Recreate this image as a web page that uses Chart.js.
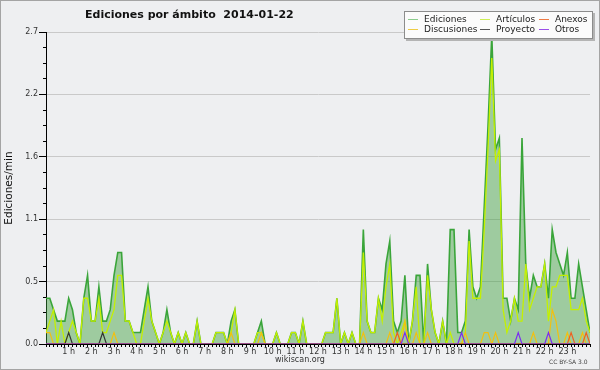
<!DOCTYPE html>
<html>
<head>
<meta charset="utf-8">
<script src="https://cdn.jsdelivr.net/npm/chart.js@4/dist/chart.umd.min.js"></script>
<style>
html, body { margin:0; padding:0; background:#eeeff1; }
#wrap { position:relative; width:600px; height:370px; background:#eeeff1; box-shadow:inset 0 0 0 1px #a4a4a4; font-family:"DejaVu Sans", sans-serif; color:#222; overflow:hidden; }
#wrap canvas { position:absolute; left:0; top:0; }
.txt { position:absolute; white-space:nowrap; }
#title { left:85px; top:9px; font-weight:bold; font-size:11px; line-height:11px; color:#111; }
#legend { position:absolute; left:404px; top:11px; width:187px; height:26px; background:#fbfbfb; border:1px solid #8c8c8c; box-shadow:2px 2px 0 #b4b4b4; }
.lg { position:absolute; font-size:9px; line-height:9px; color:#222; }
.lg i { position:absolute; left:-16px; top:4px; width:10px; height:1px; }
#site { left:0; width:600px; text-align:center; top:356px; font-size:8px; line-height:8px; color:#333; }
#cc { left:549px; top:359px; font-size:6px; line-height:6px; color:#444; }
</style>
</head>
<body>
<div id="wrap">
  <canvas id="c" width="600" height="370"></canvas>
  <div id="title" class="txt">Ediciones por ámbito&nbsp;&nbsp;2014-01-22</div>
  <div id="legend">
    <span class="lg" style="left:19px;top:3px"><i style="background:#8ccc8c"></i>Ediciones</span>
    <span class="lg" style="left:91px;top:3px"><i style="background:#cdee55"></i>Artículos</span>
    <span class="lg" style="left:150px;top:3px"><i style="background:#ee7a44"></i>Anexos</span>
    <span class="lg" style="left:19px;top:13px"><i style="background:#eecc44"></i>Discusiones</span>
    <span class="lg" style="left:91px;top:13px"><i style="background:#555555"></i>Proyecto</span>
    <span class="lg" style="left:150px;top:13px"><i style="background:#9a4ee8"></i>Otros</span>
  </div>
  <div id="site" class="txt">wikiscan.org</div>
  <div id="cc" class="txt">CC BY-SA 3.0</div>
</div>
<script>
// one value per 10 minutes, 00:00 .. 24:00 (145 slots), edits per minute
const hourLabels = ['1 h','2 h','3 h','4 h','5 h','6 h','7 h','8 h','9 h','10 h','11 h','12 h',
  '13 h','14 h','15 h','16 h','17 h','18 h','19 h','20 h','21 h','22 h','23 h'];
const slotsPerHour = 6;
const yMax = 30 / 11;

const ediciones = [
  0.4,0.4,0.3,0.2,0.2,0.2,
  0.4,0.3,0.1,0,0.4,0.6,
  0.2,0.2,0.5,0.2,0.2,0.3,
  0.6,0.8,0.8,0.2,0.2,0.1,
  0.1,0.1,0.3,0.5,0.2,0.1,
  0,0.1,0.3,0.1,0,0.1,
  0,0.1,0,0,0.2,0,
  0,0,0,0.1,0.1,0.1,
  0,0.2,0.3,0,0,0,
  0,0,0.1,0.2,0,0,
  0,0.1,0,0,0,0.1,
  0.1,0,0.2,0,0,0,
  0,0,0.1,0.1,0.1,0.4,
  0,0.1,0,0.1,0,0,
  1.0,0.2,0.1,0.1,0.4,0.3,
  0.7,0.9,0.2,0.1,0.2,0.6,
  0,0.2,0.6,0.6,0,0.7,
  0.3,0.1,0,0.2,0,1.0,
  1.0,0.1,0.1,0.2,1.0,0.5,
  0.4,0.5,1.2,1.9,2.7,1.7,
  1.8,0.4,0.4,0.2,0.4,0.3,
  1.8,0.7,0.4,0.6,0.5,0.5,
  0.7,0.4,1.0,0.8,0.7,0.6,
  0.8,0.4,0.4,0.7,0.5,0.3,
  0.1
];
const articulos = [
  0.1,0.2,0.3,0,0.2,0,
  0.1,0.2,0.1,0,0.4,0.4,
  0.2,0.2,0.4,0.1,0.1,0.2,
  0.3,0.6,0.6,0.2,0.2,0.1,
  0,0,0.2,0.4,0.2,0.1,
  0,0.1,0.2,0.1,0,0.1,
  0,0.1,0,0,0.2,0,
  0,0,0,0.1,0.1,0.1,
  0,0.1,0.3,0,0,0,
  0,0,0.1,0.1,0,0,
  0,0.1,0,0,0,0.1,
  0.1,0,0.2,0,0,0,
  0,0,0.1,0.1,0.1,0.4,
  0,0.1,0,0.1,0,0,
  0.8,0.2,0.1,0.1,0.4,0.2,
  0.5,0.7,0.1,0,0.1,0.2,
  0,0.2,0.5,0,0,0.6,
  0.3,0.1,0,0.2,0,0.1,
  0,0,0,0.1,0.9,0.4,
  0.4,0.4,1.0,1.7,2.5,1.6,
  1.7,0.3,0.1,0.2,0.4,0.2,
  0.2,0.7,0.3,0.4,0.5,0.5,
  0.7,0.2,0.5,0.5,0.6,0.6,
  0.6,0.3,0.3,0.3,0.4,0.2,
  0.1
];
const discusiones = [
  0.1,0.1,0,0,0,0,
  0,0,0,0,0,0,
  0,0,0,0,0,0,
  0.1,0,0,0,0,0,
  0,0,0,0,0,0,
  0,0,0,0,0,0,
  0,0,0,0,0,0,
  0,0,0,0,0,0,
  0,0.1,0,0,0,0,
  0,0,0,0.1,0,0,
  0,0,0,0,0,0,
  0,0,0,0,0,0,
  0,0,0,0,0,0,
  0,0,0,0,0,0,
  0.1,0,0,0,0,0,
  0,0.1,0,0,0,0.2,
  0,0,0.1,0,0,0.1,
  0,0,0,0,0,0,
  0,0,0,0.1,0,0,
  0,0,0.1,0.1,0,0.1,
  0,0,0,0,0,0,
  0,0,0,0.1,0,0,
  0,0,0.3,0.2,0,0,
  0.1,0,0,0,0.1,0,
  0
];
const proyecto = [
  0,0,0,0,0,0,
  0.1,0,0,0,0,0,
  0,0,0,0.1,0,0,
  0,0,0,0,0,0,
  0,0,0,0,0,0,
  0,0,0,0,0,0,
  0,0,0,0,0,0,
  0,0,0,0,0,0,
  0,0,0,0,0,0,
  0,0,0,0,0,0,
  0,0,0,0,0,0,
  0,0,0,0,0,0,
  0,0,0,0,0,0,
  0,0,0,0,0,0,
  0,0,0,0,0,0,
  0,0,0,0,0,0,
  0,0,0,0,0,0,
  0,0,0,0,0,0,
  0,0,0,0,0,0,
  0,0,0,0,0,0,
  0,0,0,0,0,0,
  0,0,0,0,0,0,
  0,0,0,0,0,0,
  0,0,0,0,0,0,
  0
];
const anexos = [
  0,0,0,0,0,0,
  0,0,0,0,0,0,
  0,0,0,0,0,0,
  0,0,0,0,0,0,
  0,0,0,0,0,0,
  0,0,0,0,0,0,
  0,0,0,0,0,0,
  0,0,0,0,0,0,
  0,0,0,0,0,0,
  0,0,0,0,0,0,
  0,0,0,0,0,0,
  0,0,0,0,0,0,
  0,0,0,0,0,0,
  0,0,0,0,0,0,
  0,0,0,0,0,0,
  0,0,0,0.1,0,0,
  0,0,0,0,0,0,
  0,0,0,0,0,0,
  0,0,0,0,0,0,
  0,0,0,0,0,0,
  0,0,0,0,0,0,
  0,0,0,0,0,0,
  0,0,0,0,0,0,
  0,0.1,0,0,0,0.1,
  0
];
const otros = [
  0,0,0,0,0,0,
  0,0,0,0,0,0,
  0,0,0,0,0,0,
  0,0,0,0,0,0,
  0,0,0,0,0,0,
  0,0,0,0,0,0,
  0,0,0,0,0,0,
  0,0,0,0,0,0,
  0,0,0,0,0,0,
  0,0,0,0,0,0,
  0,0,0,0,0,0,
  0,0,0,0,0,0,
  0,0,0,0,0,0,
  0,0,0,0,0,0,
  0,0,0,0,0,0,
  0,0,0,0,0,0.1,
  0,0,0,0,0,0,
  0,0,0,0,0,0,
  0,0,0.1,0,0,0,
  0,0,0,0,0,0,
  0,0,0,0,0,0.1,
  0,0,0,0,0,0,
  0,0.1,0,0,0,0,
  0,0,0,0,0,0,
  0
];

const slots = ediciones.map((_, i) => i);
const tickFont = { family: 'DejaVu Sans', size: 8 };

function series(label, data, color, width, order, extra) {
  return Object.assign({ label, data, borderColor: color, borderWidth: width, order,
    pointRadius: 0, tension: 0, fill: false, clip: 0 }, extra || {});
}

try {
  new Chart(document.getElementById('c'), {
    type: 'line',
    data: {
      labels: slots,
      datasets: [
        series('Ediciones', ediciones, '#3aa53a', 1.6, 10, { fill: 'origin', backgroundColor: 'rgba(60,160,60,0.45)' }),
        series('Artículos', articulos, '#c4f000', 1.3, 5),
        series('Discusiones', discusiones, '#f2c010', 1.2, 4),
        series('Proyecto', proyecto, '#333333', 1.2, 3),
        series('Anexos', anexos, '#f06020', 1.2, 2),
        series('Otros', otros, '#7a2ef0', 1.2, 1)
      ]
    },
    options: {
      responsive: false,
      animation: false,
      layout: { padding: { left: 0, right: 10, top: 32, bottom: 0 } },
      plugins: { legend: { display: false }, tooltip: { enabled: false }, title: { display: false } },
      scales: {
        x: {
          type: 'category', offset: false, z: 1,
          grid: { drawOnChartArea: false, tickLength: 3, tickColor: '#000' },
          border: { color: '#000' },
          ticks: {
            autoSkip: false, maxRotation: 0, minRotation: 0, padding: 0, color: '#333', font: tickFont,
            callback: (v, i) => (i % slotsPerHour === 0 && i > 0 && i < slots.length - 1) ? hourLabels[i / slotsPerHour - 1] : ''
          },
          afterFit: s => { s.height = 26; }
        },
        y: {
          position: 'left', weight: 1, min: 0, max: yMax,
          grid: { color: '#c9c9c9', tickColor: '#000', tickLength: 7 },
          border: { color: '#000' },
          ticks: { count: 6, padding: 1, color: '#333', font: tickFont, callback: v => v.toFixed(1) },
          title: { display: true, text: 'Ediciones/min', color: '#111', font: { family: 'DejaVu Sans', size: 10.5 }, padding: { top: 3, bottom: 0 } },
          afterFit: s => { s.width = 46; }
        },
        yMinor: {
          position: 'left', weight: 0, min: 0, max: yMax,
          grid: { drawOnChartArea: false, tickColor: '#000', tickLength: 3 },
          border: { display: false },
          ticks: { count: 21, display: false },
          afterFit: s => { s.width = 0; }
        }
      }
    }
  });
} catch (err) { console.error('chart failed:', err); }
</script>
</body>
</html>
